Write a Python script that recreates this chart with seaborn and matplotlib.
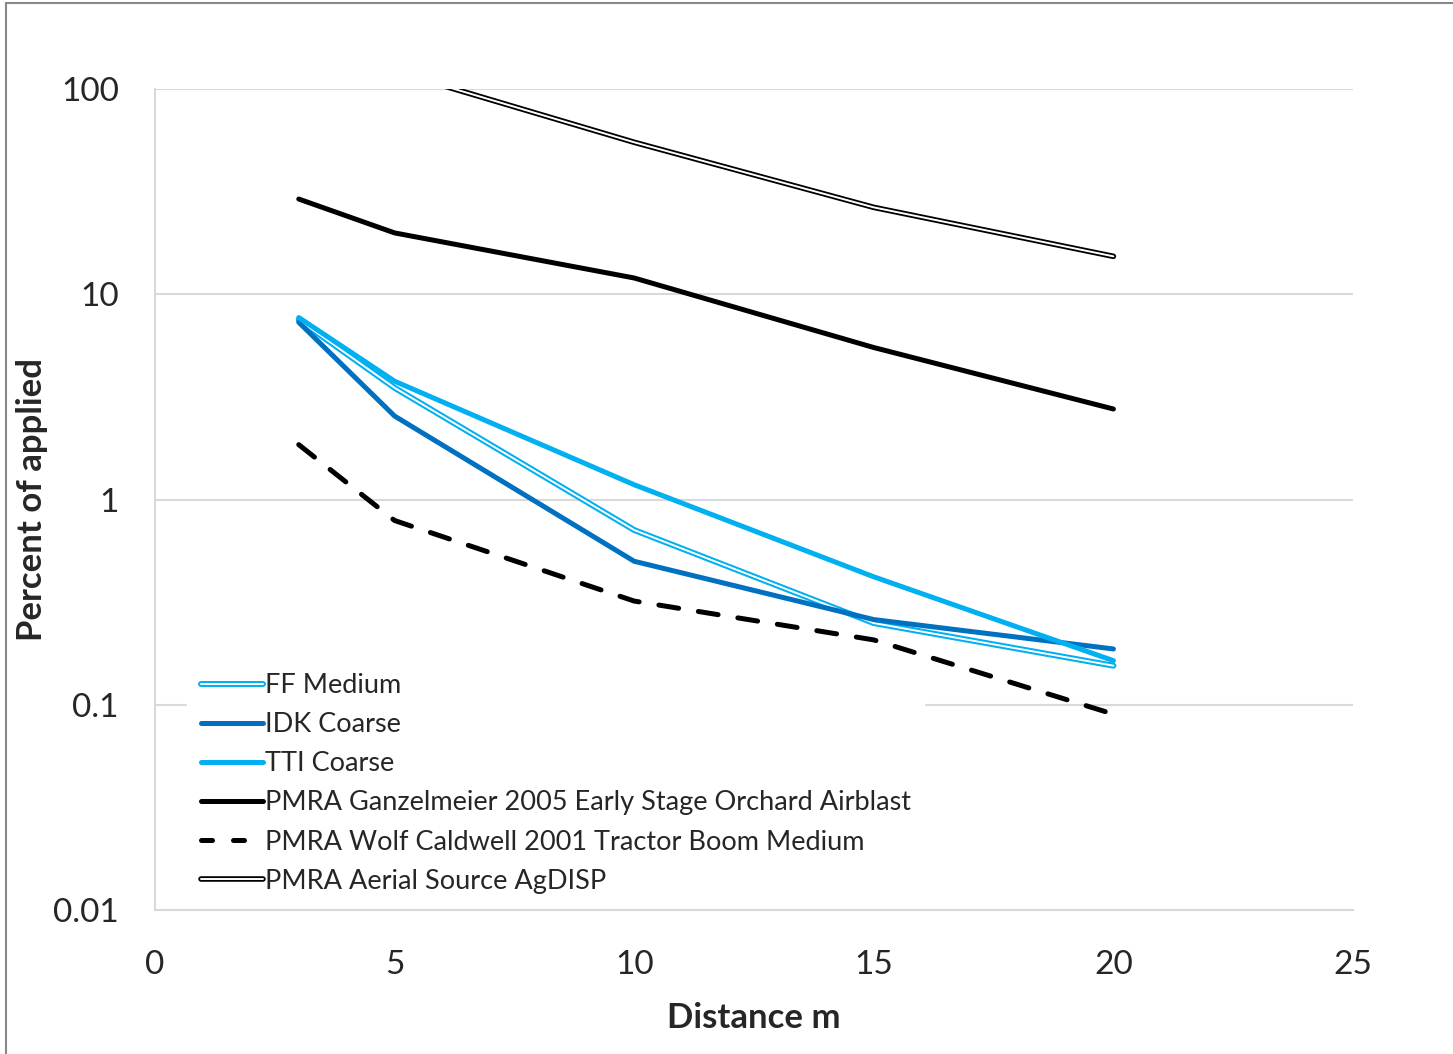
import matplotlib
matplotlib.use("Agg")
import matplotlib.pyplot as plt
import seaborn as sns
from matplotlib.lines import Line2D
from matplotlib.legend_handler import HandlerTuple
from matplotlib.patches import Rectangle

# Data (percent of applied vs distance in m)
distance = [3, 5, 10, 15, 20]
ff_medium = [7.5, 3.5, 0.71, 0.25, 0.155]
idk_coarse = [7.3, 2.55, 0.50, 0.26, 0.187]
tti_coarse = [7.7, 3.77, 1.18, 0.42, 0.164]
ganzelmeier = [29.1, 19.9, 12.0, 5.5, 2.76]
wolf_caldwell = [1.85, 0.79, 0.32, 0.207, 0.090]
aerial_agdisp = [200, 122, 55, 26.5, 15.3]

labels = ["FF Medium", "IDK Coarse", "TTI Coarse",
          "PMRA Ganzelmeier 2005 Early Stage Orchard Airblast",
          "PMRA Wolf Caldwell 2001 Tractor Boom Medium",
          "PMRA Aerial Source AgDISP"]

light_blue = "#00B0F0"
mid_blue = "#0070C0"
grid_grey = "#D9D9D9"

sns.set_style("white")
plt.rcParams['font.family'] = ['Lato', 'DejaVu Sans']

fig = plt.figure(figsize=(14.53, 10.54), dpi=100)
ax = fig.add_axes([155 / 1453, 1 - 910 / 1054, 1198 / 1453, 821 / 1054])

lw = 3.6
# double lines: thick coloured line with a thin white core
sns.lineplot(x=distance, y=ff_medium, color=light_blue, lw=4.3, ax=ax)
sns.lineplot(x=distance, y=ff_medium, color="white", lw=1.4, ax=ax)
sns.lineplot(x=distance, y=idk_coarse, color=mid_blue, lw=lw, ax=ax)
sns.lineplot(x=distance, y=tti_coarse, color=light_blue, lw=lw, ax=ax)
sns.lineplot(x=distance, y=ganzelmeier, color="black", lw=lw, ax=ax)
sns.lineplot(x=distance, y=wolf_caldwell, color="black", lw=lw,
             linestyle=(0, (4, 4)), ax=ax)
sns.lineplot(x=distance, y=aerial_agdisp, color="black", lw=4.0, ax=ax)
sns.lineplot(x=distance, y=aerial_agdisp, color="white", lw=1.4, ax=ax)

for line in ax.get_lines():
    line.set_solid_capstyle("round")
    line.set_dash_capstyle("round")

ax.set_yscale("log")
ax.set_ylim(0.01, 100)
ax.set_xlim(0, 25)
ax.set_xticks([0, 5, 10, 15, 20, 25])
ax.set_yticks([0.01, 0.1, 1, 10, 100])
ax.set_yticklabels(["0.01", "0.1", "1", "10", "100"])
ax.minorticks_off()
ax.yaxis.grid(True, color=grid_grey, lw=1.5)
ax.set_axisbelow(True)
ax.tick_params(axis="y", length=0, labelsize=24, pad=26)
ax.tick_params(axis="x", length=0, labelsize=24, pad=29)
for side in ["top", "right"]:
    ax.spines[side].set_visible(False)
for side in ["left", "bottom"]:
    ax.spines[side].set_color(grid_grey)
    ax.spines[side].set_linewidth(1.5)

ax.set_xlabel("Distance m", fontsize=25, fontweight="bold", labelpad=16)
ax.set_ylabel("Percent of applied", fontsize=25, fontweight="bold")
ax.yaxis.set_label_coords(-0.089, 0.5)

# legend handles
handles = [
    (Line2D([], [], color=light_blue, lw=4.3, solid_capstyle="round"),
     Line2D([], [], color="white", lw=1.4)),
    Line2D([], [], color=mid_blue, lw=lw, solid_capstyle="round"),
    Line2D([], [], color=light_blue, lw=lw, solid_capstyle="round"),
    Line2D([], [], color="black", lw=lw, solid_capstyle="round"),
    Line2D([], [], color="black", lw=lw, linestyle=(0, (2.2, 4.2)),
           dash_capstyle="round"),
    (Line2D([], [], color="black", lw=4.0, solid_capstyle="round"),
     Line2D([], [], color="white", lw=1.4)),
]
leg = ax.legend(handles, labels, handler_map={tuple: HandlerTuple(ndivide=1)},
                loc="lower left", bbox_to_anchor=(0.0155, -0.013), fontsize=19.5,
                handlelength=2.3, handletextpad=0.07, labelspacing=0.52,
                frameon=True, facecolor="white", edgecolor="white",
                framealpha=1, borderpad=0.5, fancybox=False)

# outer chart border
fig.patches.append(Rectangle((6 / 1453, -0.1), 2, 1.1 - 3 / 1054,
                             transform=fig.transFigure, fill=False,
                             edgecolor="#888888", lw=1.5))

fig.savefig("out.png", dpi=100)
